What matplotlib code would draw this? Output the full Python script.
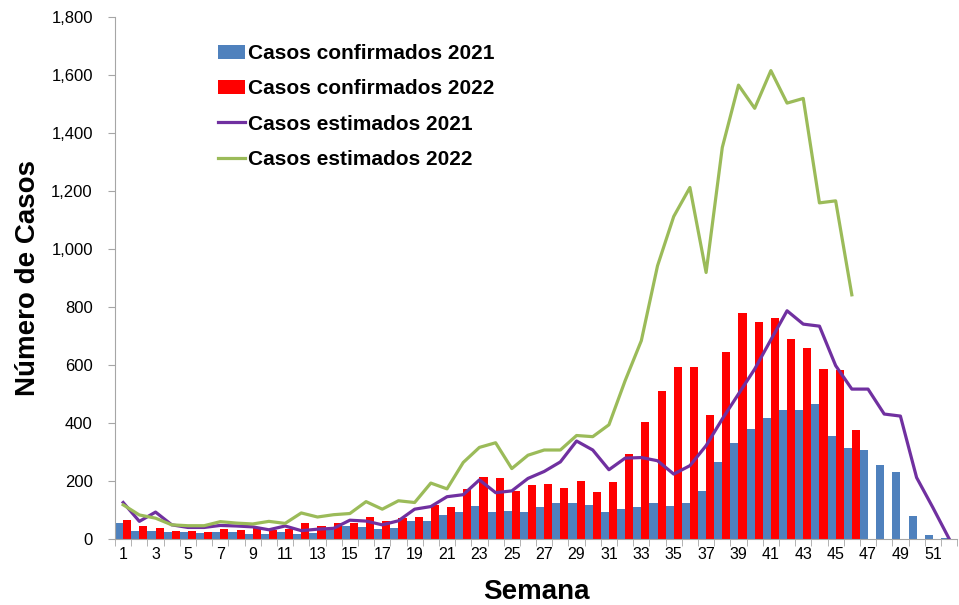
import numpy as np
import matplotlib
matplotlib.use("Agg")
import matplotlib.pyplot as plt
from matplotlib.ticker import FuncFormatter, FixedLocator

plt.rcParams['font.family'] = ['Liberation Sans', 'DejaVu Sans']

weeks = list(range(1, 53))

# casos confirmados (barras)
conf_2021 = [54, 29, 29, 24, 24, 22, 25, 25, 18, 18, 25, 18, 20, 30, 44, 40, 34, 37, 63, 61,
             83, 94, 115, 93, 98, 93, 111, 123, 126, 118, 94, 104, 111, 123, 115, 126, 165, 264,
             332, 378, 417, 446, 446, 467, 354, 314, 307, 257, 232, 79, 15, 4]
conf_2022 = [65, 44, 39, 29, 29, 25, 35, 32, 37, 32, 35, 57, 46, 54, 54, 76, 62, 72, 76, 118,
             111, 172, 215, 211, 164, 186, 190, 176, 201, 161, 198, 293, 403, 510, 592, 592, 429,
             646, 778, 748, 762, 690, 659, 587, 584, 377]

# casos estimados (lineas)
est_2021 = [126, 61, 93, 49, 40, 40, 47, 45, 42, 32, 45, 29, 34, 37, 65, 62, 49, 63, 103, 112,
            146, 153, 204, 160, 166, 209, 233, 266, 338, 307, 239, 279, 281, 270, 224, 253, 322,
            414, 500, 586, 687, 787, 741, 734, 598, 517, 517, 431, 424, 212, 109, 2]
est_2022 = [118, 83, 72, 49, 46, 46, 60, 55, 52, 61, 54, 90, 76, 84, 88, 129, 103, 132, 126, 193,
            173, 264, 316, 332, 243, 289, 307, 307, 357, 353, 394, 546, 684, 942, 1112, 1212, 919,
            1350, 1565, 1485, 1615, 1503, 1519, 1159, 1166, 842]

labels = ["Casos confirmados 2021", "Casos confirmados 2022",
          "Casos estimados 2021", "Casos estimados 2022"]


def main():
    fig = plt.figure(figsize=(9.59, 6.05), dpi=100)
    ax = fig.add_axes([0.12, 0.109, 0.878, 0.863])

    x21 = np.array(weeks)
    x22 = np.array(weeks[:len(conf_2022)])
    w = 0.5
    b1 = ax.bar(x21 - w / 2, conf_2021, width=w, color="#4F81BD", zorder=2)
    b2 = ax.bar(x22 + w / 2, conf_2022, width=w, color="#FF0000", zorder=2)
    l1, = ax.plot(x21, est_2021, color="#7030A0", lw=2.3, zorder=3)
    l2, = ax.plot(np.array(weeks[:len(est_2022)]), est_2022, color="#9BBB59", lw=2.3, zorder=3)

    ax.set_xlim(0.5, 52.5)
    ax.set_ylim(0, 1800)
    ax.set_yticks(np.arange(0, 1801, 200))
    ax.yaxis.set_major_formatter(FuncFormatter(lambda v, p: "{:,.0f}".format(v)))

    # etiquetas en semanas impares, marcas entre categorias
    ax.set_xticks(weeks[::2])
    ax.set_xticklabels([str(s) for s in weeks[::2]])
    ax.tick_params(axis="x", which="major", length=0, pad=6, labelsize=11.5)
    ax.xaxis.set_minor_locator(FixedLocator(np.arange(0.5, 53, 1)))
    ax.tick_params(axis="x", which="minor", length=5, color="#A6A6A6")
    ax.tick_params(axis="y", length=5, color="#A6A6A6", pad=11, labelsize=12)

    for s in ["top", "right"]:
        ax.spines[s].set_visible(False)
    for s in ["left", "bottom"]:
        ax.spines[s].set_color("#A6A6A6")

    ax.set_xlabel("Semana", fontsize=20, fontweight="bold", labelpad=12)
    ax.set_ylabel("Número de Casos", fontsize=20, fontweight="bold")
    ax.yaxis.set_label_coords(-0.088, 0.5)

    fig.legend([b1, b2, l1, l2], labels, loc="upper left",
               bbox_to_anchor=(218 / 959, 1 - 44 / 605),
               frameon=False, prop={"weight": "bold", "size": 15},
               handlelength=1.3, handleheight=0.65, handletextpad=0.15,
               labelspacing=0.78, borderpad=0, borderaxespad=0)

    fig.savefig("out.png", dpi=100)


if __name__ == "__main__":
    main()
